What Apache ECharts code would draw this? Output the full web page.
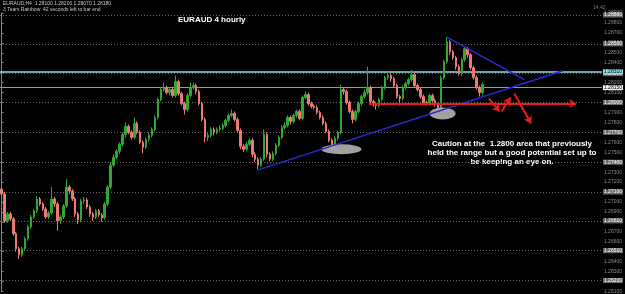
<!DOCTYPE html>
<html><head><meta charset="utf-8">
<script src="https://cdn.jsdelivr.net/npm/echarts@6/dist/echarts.min.js"></script>
<style>html,body{margin:0;padding:0;background:#000;}#c{width:625px;height:294px;}</style>
</head><body><div id="c"></div>
<script>
// ---- data (EURAUD H4) ----
const opens = [
1.2713,1.2708,1.2681,1.2688,1.2683,1.2668,1.2653,1.2647,1.2653,1.2663,
1.2675,1.2685,1.2691,1.2703,1.2698,1.2693,1.2685,1.2689,1.2703,1.2698,
1.2681,1.2685,1.2696,1.2715,1.2711,1.2703,1.2688,1.2682,1.2701,1.2702,
1.2695,1.2688,1.2685,1.2691,1.2687,1.2684,1.2698,1.2715,1.2737,1.2745,
1.2751,1.2758,1.2768,1.2776,1.2770,1.2765,1.2779,1.2770,1.2760,1.2755,
1.2763,1.2767,1.2773,1.2785,1.2803,1.2813,1.2815,1.2810,1.2813,1.2807,
1.2821,1.2809,1.2799,1.2793,1.2807,1.2815,1.2817,1.2811,1.2799,1.2783,
1.2765,1.2767,1.2773,1.2770,1.2773,1.2774,1.2777,1.2782,1.2787,1.2789,
1.2783,1.2772,1.2756,1.2753,1.2758,1.2762,1.2748,1.2743,1.2737,1.2743,
1.2768,1.2748,1.2743,1.2749,1.2757,1.2765,1.2775,1.2777,1.2785,1.2781,
1.2787,1.2791,1.2784,1.2805,1.2808,1.2799,1.2796,1.2795,1.2790,1.2785,
1.2779,1.2771,1.2762,1.2757,1.2764,1.2770,1.2813,1.2811,1.2800,1.2791,
1.2783,1.2791,1.2799,1.2806,1.2810,1.2815,1.2801,1.2798,1.2797,1.2803,
1.2815,1.2825,1.2827,1.2824,1.2817,1.2806,1.2804,1.2815,1.2819,1.2823,
1.2828,1.2817,1.2813,1.2806,1.2800,1.2799,1.2807,1.2802,1.2798,1.2795,
1.2825,1.2841,1.2861,1.2851,1.2845,1.2836,1.2829,1.2843,1.2854,1.2848,
1.2835,1.2825,1.2815,1.2810];
const closes = [
1.2708,1.2681,1.2688,1.2683,1.2668,1.2653,1.2647,1.2653,1.2663,1.2675,
1.2685,1.2691,1.2703,1.2698,1.2693,1.2685,1.2689,1.2703,1.2698,1.2681,
1.2685,1.2696,1.2715,1.2711,1.2703,1.2688,1.2682,1.2701,1.2702,1.2695,
1.2688,1.2685,1.2691,1.2687,1.2684,1.2698,1.2715,1.2737,1.2745,1.2751,
1.2758,1.2768,1.2776,1.2770,1.2765,1.2779,1.2770,1.2760,1.2755,1.2763,
1.2767,1.2773,1.2785,1.2803,1.2813,1.2815,1.2810,1.2813,1.2807,1.2821,
1.2809,1.2799,1.2793,1.2807,1.2815,1.2817,1.2811,1.2799,1.2783,1.2765,
1.2767,1.2773,1.2770,1.2773,1.2774,1.2777,1.2782,1.2787,1.2789,1.2783,
1.2772,1.2756,1.2753,1.2758,1.2762,1.2748,1.2743,1.2737,1.2743,1.2768,
1.2748,1.2743,1.2749,1.2757,1.2765,1.2775,1.2777,1.2785,1.2781,1.2787,
1.2791,1.2784,1.2805,1.2808,1.2799,1.2796,1.2795,1.2790,1.2785,1.2779,
1.2771,1.2762,1.2757,1.2764,1.2770,1.2813,1.2811,1.2800,1.2791,1.2783,
1.2791,1.2799,1.2806,1.2810,1.2815,1.2801,1.2798,1.2797,1.2803,1.2815,
1.2825,1.2827,1.2824,1.2817,1.2806,1.2804,1.2815,1.2819,1.2823,1.2828,
1.2817,1.2813,1.2806,1.2800,1.2799,1.2807,1.2802,1.2798,1.2795,1.2825,
1.2841,1.2861,1.2851,1.2845,1.2836,1.2829,1.2843,1.2854,1.2848,1.2835,
1.2825,1.2815,1.2810,1.2818];
const lows = [
1.2706,1.2679,1.2679,1.2681,1.2666,1.2650,1.2643,1.2645,1.2651,1.2661,
1.2673,1.2683,1.2689,1.2696,1.2691,1.2683,1.2683,1.2687,1.2695,1.2671,
1.2678,1.2683,1.2694,1.2708,1.2701,1.2685,1.2678,1.2680,1.2698,1.2693,
1.2685,1.2681,1.2683,1.2685,1.2680,1.2682,1.2696,1.2713,1.2735,1.2743,
1.2748,1.2756,1.2765,1.2768,1.2763,1.2763,1.2768,1.2758,1.2749,1.2753,
1.2761,1.2765,1.2771,1.2783,1.2801,1.2811,1.2808,1.2807,1.2805,1.2805,
1.2807,1.2797,1.2788,1.2791,1.2805,1.2813,1.2808,1.2797,1.2781,1.2760,
1.2761,1.2765,1.2767,1.2768,1.2771,1.2772,1.2775,1.2780,1.2785,1.2781,
1.2770,1.2753,1.2750,1.2751,1.2756,1.2745,1.2740,1.2733,1.2735,1.2741,
1.2745,1.2741,1.2741,1.2747,1.2755,1.2763,1.2773,1.2775,1.2778,1.2779,
1.2785,1.2782,1.2782,1.2803,1.2797,1.2794,1.2793,1.2788,1.2783,1.2777,
1.2769,1.2760,1.2753,1.2755,1.2762,1.2768,1.2808,1.2798,1.2789,1.2779,
1.2781,1.2789,1.2797,1.2804,1.2808,1.2799,1.2796,1.2793,1.2795,1.2801,
1.2813,1.2823,1.2821,1.2815,1.2804,1.2797,1.2802,1.2813,1.2817,1.2821,
1.2815,1.2811,1.2804,1.2798,1.2797,1.2797,1.2800,1.2796,1.2791,1.2793,
1.2823,1.2839,1.2848,1.2843,1.2833,1.2827,1.2827,1.2841,1.2845,1.2833,
1.2823,1.2813,1.2806,1.2807];
const highs = [
1.2715,1.2710,1.2690,1.2690,1.2685,1.2670,1.2655,1.2655,1.2665,1.2677,
1.2687,1.2693,1.2706,1.2705,1.2700,1.2695,1.2691,1.2715,1.2705,1.2700,
1.2687,1.2698,1.2723,1.2717,1.2713,1.2705,1.2690,1.2703,1.2705,1.2704,
1.2697,1.2690,1.2693,1.2693,1.2689,1.2700,1.2717,1.2740,1.2748,1.2753,
1.2760,1.2770,1.2780,1.2778,1.2772,1.2785,1.2781,1.2772,1.2762,1.2765,
1.2770,1.2775,1.2787,1.2805,1.2815,1.2820,1.2817,1.2815,1.2815,1.2827,
1.2823,1.2811,1.2801,1.2809,1.2820,1.2820,1.2819,1.2813,1.2801,1.2785,
1.2770,1.2775,1.2775,1.2775,1.2777,1.2779,1.2784,1.2789,1.2793,1.2791,
1.2785,1.2774,1.2758,1.2760,1.2764,1.2764,1.2750,1.2745,1.2745,1.2773,
1.2770,1.2750,1.2751,1.2759,1.2767,1.2777,1.2780,1.2787,1.2787,1.2789,
1.2793,1.2793,1.2807,1.2811,1.2810,1.2801,1.2798,1.2797,1.2792,1.2787,
1.2781,1.2773,1.2764,1.2766,1.2772,1.2818,1.2815,1.2813,1.2802,1.2793,
1.2793,1.2801,1.2808,1.2813,1.2836,1.2817,1.2803,1.2800,1.2805,1.2817,
1.2827,1.2831,1.2829,1.2826,1.2819,1.2808,1.2817,1.2821,1.2825,1.2833,
1.2830,1.2819,1.2815,1.2808,1.2802,1.2809,1.2809,1.2804,1.2800,1.2827,
1.2843,1.2866,1.2863,1.2853,1.2847,1.2838,1.2845,1.2857,1.2856,1.2850,
1.2837,1.2827,1.2817,1.2820];

// horizontal levels (price)
const gridLevels = [1.2888, 1.2859, 1.2829, 1.2800, 1.2770, 1.2740, 1.2710, 1.2681, 1.2651, 1.2621];
const cyanLevel = 1.2831;
const grayLevel = 1.2815;
// annotations in [bar index, price]
const trendUp = [[86.8, 1.2732], [190.2, 1.2832]];
const trendDown = [[150.8, 1.2866], [177.2, 1.2823]];
const redLevel = [[124.5, 1.2799], [194.8, 1.2799]];
const redArrows = [
  [[165.2, 1.2804], [168.8, 1.2791]],
  [[169.5, 1.2791], [172.5, 1.2805]],
  [[173.8, 1.2809], [179.5, 1.2779]]
];
const ellipses = [[115.2, 1.2753], [149.5, 1.2789]];
const totalSlots = 204;

const categories = [];
for (let i = 0; i < totalSlots; i++) categories.push(String(i));
const candleData = opens.map((o, i) => [o, closes[i], lows[i], highs[i]]);

const chart = echarts.init(document.getElementById('c'), null, {renderer: 'canvas'});
const FONT = '"Liberation Sans", Arial, sans-serif';

const levelLines = gridLevels.map(v => ({
  yAxis: v,
  lineStyle: {color: '#6a6a6a', type: [1, 2], width: 1},
  label: {show: true, position: 'end', distance: 1, formatter: v.toFixed(5), fontSize: 5, color: '#fff',
          backgroundColor: '#6a6a6a', padding: [0, 1], fontFamily: FONT}
}));
levelLines.push({
  yAxis: cyanLevel, lineStyle: {color: '#8fdde6', type: 'solid', width: 1.5},
  label: {show: true, position: 'end', distance: 1, formatter: cyanLevel.toFixed(5), fontSize: 5, color: '#000',
          backgroundColor: '#8fdde6', padding: [0, 1], fontFamily: FONT}
});
levelLines.push({
  yAxis: grayLevel, lineStyle: {color: '#9a9a9a', type: 'solid', width: 1},
  label: {show: true, position: 'end', distance: 1, formatter: grayLevel.toFixed(5), fontSize: 5, color: '#000',
          backgroundColor: '#f0f0f0', padding: [0, 1], fontFamily: FONT}
});

chart.setOption({
  animation: false,
  backgroundColor: '#000',
  grid: {left: 0, right: 13, top: 13, bottom: 1, containLabel: false},
  xAxis: [
    {type: 'category', data: categories, show: false, boundaryGap: true},
    {type: 'value', min: -0.5, max: totalSlots - 0.5, show: false}
  ],
  yAxis: [{
    type: 'value', position: 'right', min: 1.2610, max: 1.2890, interval: 0.0010,
    axisLine: {show: true, lineStyle: {color: '#8a8a8a', width: 1}},
    axisTick: {show: true, length: 2, lineStyle: {color: '#8a8a8a'}},
    splitLine: {show: false},
    axisLabel: {fontSize: 5, color: '#8c8c8c', margin: 2, fontFamily: FONT, formatter: v => v.toFixed(5)}
  }],
  series: [
    {
      type: 'scatter', xAxisIndex: 1, yAxisIndex: 0, z: 4,
      itemStyle: {color: '#bdbdbd', opacity: 0.85},
      data: [
        {value: ellipses[0], symbolSize: [40, 10]},
        {value: ellipses[1], symbolSize: [26, 12]}
      ],
      markLine: {silent: true, precision: 5, symbol: ['none', 'none'], data: levelLines, z: 1}
    },
    {
      type: 'candlestick', xAxisIndex: 0, yAxisIndex: 0, data: candleData, barWidth: 2, z: 2,
      itemStyle: {color: '#2fa82f', color0: '#ea7a72', borderColor: '#2fa82f', borderColor0: '#ea7a72', borderWidth: 1}
    },
    {
      type: 'lines', coordinateSystem: 'cartesian2d', xAxisIndex: 1, yAxisIndex: 0, z: 5,
      lineStyle: {color: '#2a2ad0', width: 1.5, opacity: 1},
      data: [{coords: trendUp}, {coords: trendDown}]
    },
    {
      type: 'lines', coordinateSystem: 'cartesian2d', xAxisIndex: 1, yAxisIndex: 0, z: 6,
      symbol: ['none', 'arrow'], symbolSize: 7,
      lineStyle: {color: '#e81c1c', width: 2, opacity: 1},
      data: [{coords: redLevel}].concat(redArrows.map(c => ({coords: c})))
    }
  ],
  graphic: [
    {type: 'text', left: 3, top: 1, style: {text: 'EURAUD,H4  1.28100 1.28200 1.28070 1.28180', fontSize: 5, fill: '#c8c8c8', fontFamily: FONT}},
    {type: 'text', left: 3, top: 7, style: {text: '3 Tears Rainbow  42 seconds left to bar end', fontSize: 5, fill: '#c8c8c8', fontFamily: FONT}},
    {type: 'text', left: 593, top: 5, style: {text: '14:42', fontSize: 5, fill: '#777', fontFamily: FONT}},
    {type: 'text', left: 178, top: 16, style: {text: 'EURAUD 4 hourly', fontSize: 8, fontWeight: 'bold', fill: '#fff', fontFamily: FONT}},
    {type: 'text', x: 512, y: 139, style: {
      text: 'Caution at the  1.2800 area that previously\nheld the range but a good potential set up to\nbe keeping an eye on.',
      fontSize: 8, fontWeight: 'bold', fill: '#fff', align: 'center', lineHeight: 9, fontFamily: FONT}}
  ]
});
</script></body></html>
